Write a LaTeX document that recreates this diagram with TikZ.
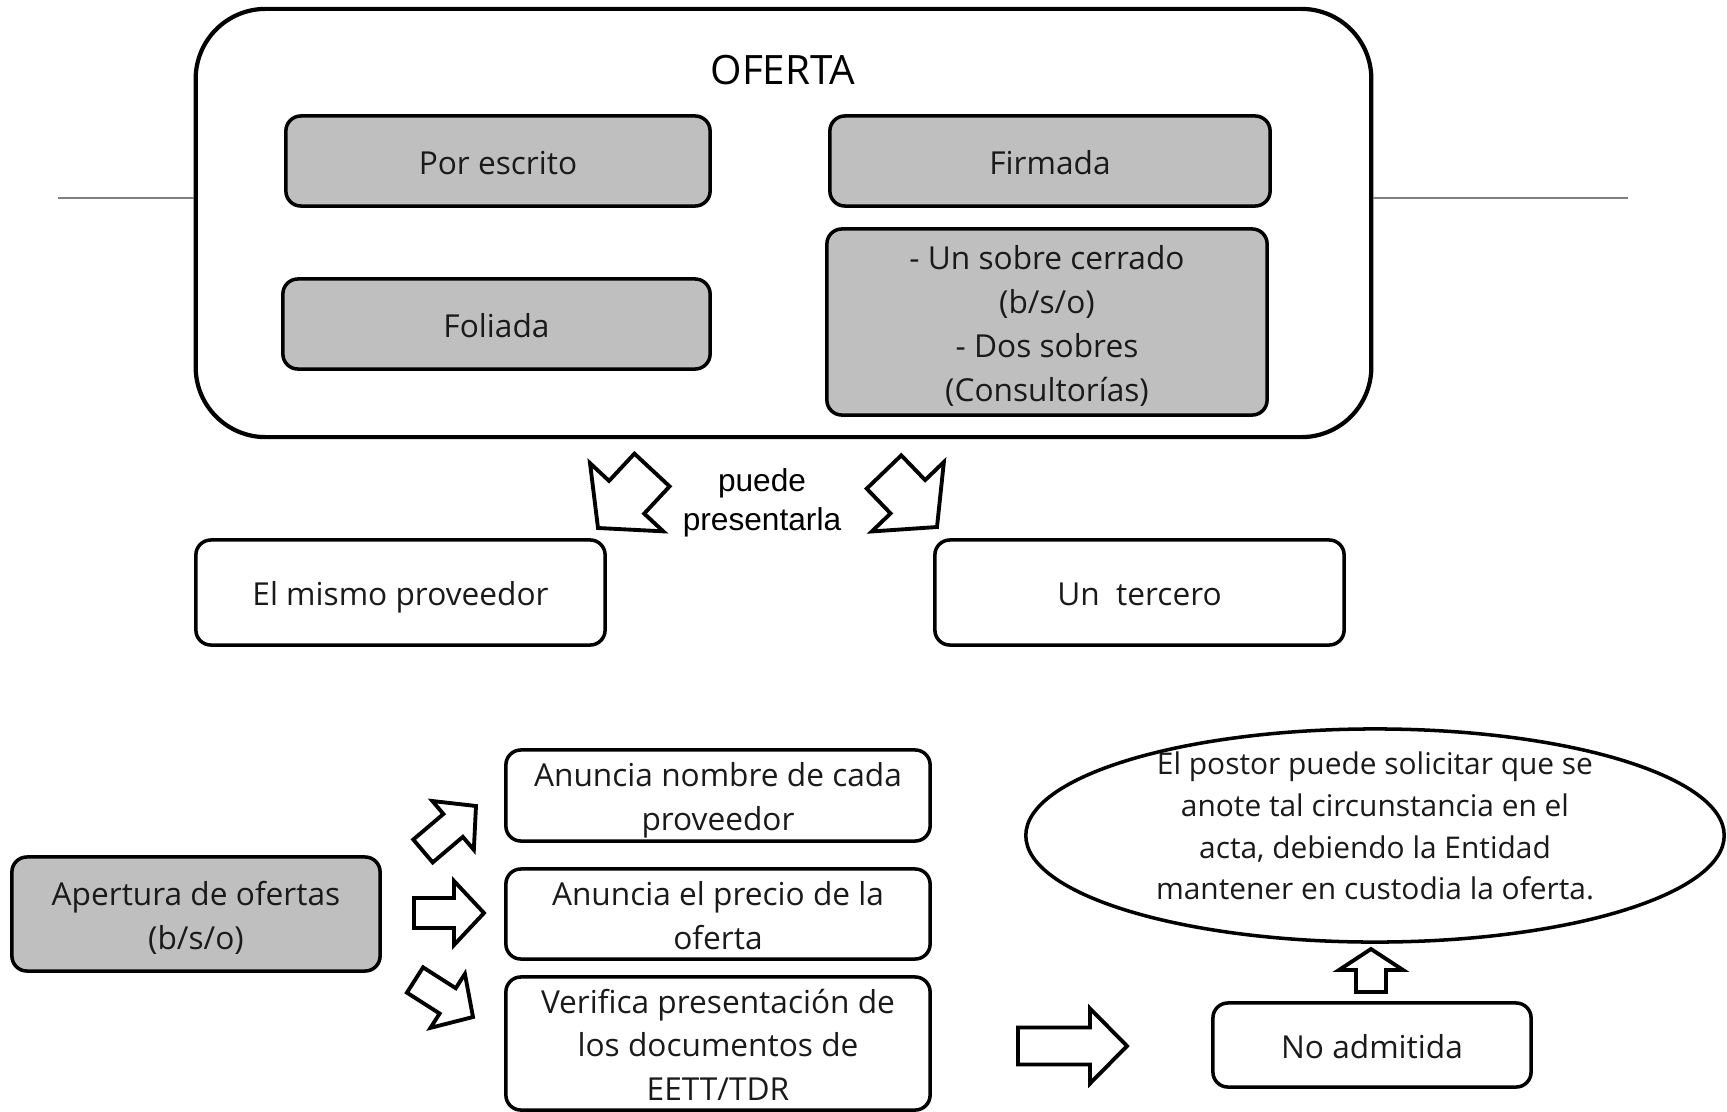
\documentclass[tikz,border=0pt]{standalone}
\usepackage{fontspec}
\setmainfont{Open Sans}
\newfontfamily\arialfont{Liberation Sans}
\usetikzlibrary{calc,shapes.geometric}
\definecolor{ink}{HTML}{1A1A1A}
\definecolor{shade}{HTML}{BFBFBF}
\definecolor{rulegray}{HTML}{808080}
\tikzset{
  frame/.style={draw=black, line width=1.2pt, rounded corners=0.7cm},
  roundbox/.style={draw=black, line width=1pt, rounded corners=0.15cm, fill=white, text=ink,
    align=center, inner sep=0pt, font=\fontsize{9}{12.5}\selectfont,
    text height=9.9pt, text depth=2.25pt},
  shadebox/.style={roundbox, fill=shade},
  twolines/.style={text height=22.4pt},
  threelines/.style={text height=34.9pt},
  fourlines/.style={text height=47.4pt},
  oval/.style={ellipse, draw=black, line width=1pt, fill=white, inner sep=0pt},
  ovaltext/.style={text=ink, align=center, font=\fontsize{8.5}{11.9}\selectfont},
  blk/.style={draw=black, fill=white, line width=1.1pt, line join=miter},
  hline/.style={draw=rulegray, line width=0.6pt},
  title/.style={text=black, font=\fontsize{11.5}{14}\selectfont},
  lab/.style={text=black, align=center, font=\arialfont\fontsize{9}{11}\selectfont},
}
\newcommand{\blockarrow}[5]{%
  \coordinate (hb) at ($(#2)!#5!(#1)$);
  \draw[blk] ($(#1)!#3!90:(#2)$) -- ($(hb)!#3!90:(#2)$) -- ($(hb)!#4!90:(#2)$) -- (#2)
    -- ($(hb)!#4!-90:(#2)$) -- ($(hb)!#3!-90:(#2)$) -- ($(#1)!#3!-90:(#2)$) -- cycle;
}

\begin{document}
\begin{tikzpicture}[x=0.01cm, y=-0.01cm]
  \useasboundingbox (0,0) rectangle (1727,1112);
  % oferta
  \coordinate (ruleL) at (58,198);
  \coordinate (ruleR) at (1628,198);
  \node[frame, minimum width=11.75cm, minimum height=4.28cm] (oferta) at (783.5,223) {};
  \draw[hline] (ruleL) -- (ruleL -| oferta.west);
  \draw[hline] (ruleR -| oferta.east) -- (ruleR);
  \node[title] (ofertaT) at (783,70) {OFERTA};
  \node[shadebox, minimum width=4.24cm, minimum height=0.9cm] (escrito) at (498,161) {Por escrito};
  \node[shadebox, minimum width=4.40cm, minimum height=0.9cm] (firmada) at (1050,161) {Firmada};
  \node[shadebox, minimum width=4.27cm, minimum height=0.9cm] (foliada) at (496.5,324) {Foliada};
  \node[shadebox, fourlines, minimum width=4.40cm, minimum height=1.86cm] (sobres) at (1047,322)
    {- Un sobre cerrado\\(b/s/o)\\- Dos sobres\\(Consultorías)};
  % quien presenta
  \node[lab] (puede) at (762,502.5) {puede\\presentarla};
  \node[roundbox, minimum width=4.09cm, minimum height=1.05cm] (mismo) at (400.5,592.5) {El mismo proveedor};
  \node[roundbox, minimum width=4.09cm, minimum height=1.05cm] (tercero) at (1139.5,592.5) {Un\ \ tercero};
  \coordinate (aLt) at (652,470);
  \coordinate (aLh) at (598,528);
  \coordinate (aRt) at (884,472);
  \coordinate (aRh) at (937,527);
  \blockarrow{aLt}{aLh}{0.24cm}{0.50cm}{0.42cm}
  \blockarrow{aRt}{aRh}{0.24cm}{0.50cm}{0.42cm}
  % apertura
  \node[shadebox, twolines, minimum width=3.68cm, minimum height=1.14cm] (apertura) at (196,914) {Apertura de ofertas\\(b/s/o)};
  \node[roundbox, twolines, minimum width=4.24cm, minimum height=0.91cm] (nombre) at (718,795.5) {Anuncia nombre de cada\\proveedor};
  \node[roundbox, twolines, minimum width=4.24cm, minimum height=0.90cm] (precio) at (718,914) {Anuncia el precio de la\\oferta};
  \node[roundbox, threelines, minimum width=4.24cm, minimum height=1.33cm] (verifica) at (718,1043.5)
    {Verifica presentación de\\los documentos de\\EETT/TDR};
  \node[roundbox, minimum width=3.18cm, minimum height=0.84cm] (noadm) at (1372,1045) {No admitida};
  \node[oval, minimum width=6.98cm, minimum height=2.13cm] (postor) at (1375,835.5) {};
  \node[ovaltext] (postorT) at (1375,826)
    {El postor puede solicitar que se\\anote tal circunstancia en el\\acta, debiendo la Entidad\\mantener en custodia la oferta.};
  \coordinate (a1t) at (423,851);
  \coordinate (a1h) at (476,806);
  \coordinate (a2t) at (414,913);
  \coordinate (a2h) at (484,913);
  \coordinate (a3t) at (415,980);
  \coordinate (a3h) at (473,1017);
  \coordinate (a4t) at (1018,1046);
  \coordinate (a4h) at (1127,1046);
  \coordinate (a5t) at (1371,992);
  \coordinate (a5h) at (1371,949);
  \blockarrow{a1t}{a1h}{0.15cm}{0.32cm}{0.30cm}
  \blockarrow{a2t}{a2h}{0.15cm}{0.32cm}{0.30cm}
  \blockarrow{a3t}{a3h}{0.15cm}{0.32cm}{0.30cm}
  \blockarrow{a4t}{a4h}{0.185cm}{0.375cm}{0.37cm}
  \blockarrow{a5t}{a5h}{0.15cm}{0.32cm}{0.21cm}
\end{tikzpicture}
\end{document}
